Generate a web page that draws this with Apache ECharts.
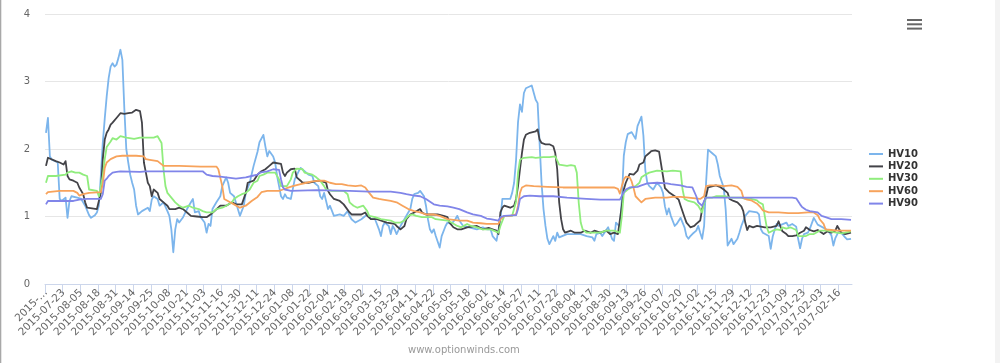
<!DOCTYPE html>
<html>
<head>
<meta charset="utf-8">
<script src="https://cdn.jsdelivr.net/npm/echarts@6/dist/echarts.min.js"></script>
<style>
html,body{margin:0;padding:0;background:#fff;}
#chart{width:1000px;height:363px;}
</style>
</head>
<body>
<div id="chart"></div>
<script>
// x tick labels (one every 9 trading days); the first one is shown truncated in the source
const tickLabels = ['2015-07-10','2015-07-23','2015-08-05','2015-08-18','2015-08-31','2015-09-14','2015-09-25','2015-10-08','2015-10-21','2015-11-03','2015-11-16','2015-11-30','2015-12-11','2015-12-24','2016-01-08','2016-01-22','2016-02-04','2016-02-18','2016-03-02','2016-03-15','2016-03-29','2016-04-11','2016-04-22','2016-05-05','2016-05-18','2016-06-01','2016-06-14','2016-06-27','2016-07-11','2016-07-22','2016-08-04','2016-08-17','2016-08-30','2016-09-13','2016-09-26','2016-10-07','2016-10-20','2016-11-02','2016-11-15','2016-11-29','2016-12-12','2016-12-23','2017-01-09','2017-01-23','2017-02-03','2017-02-16'];
const dayCount = 412;          // trading days on the axis
const labelStep = 9;           // days between tick labels
const seriesNames = ['HV10','HV20','HV30','HV60','HV90'];
const seriesColors = ['#7cb5ec','#434348','#90ed7d','#f7a35c','#8085e9'];

// [dayIndex, value]
const hv10 = [[0,2.24],[1,2.46],[2,1.89],[3,1.84],[6,1.80],[7,1.26],[8,1.23],[10,1.28],[11,0.98],[12,1.23],[13,1.30],[16,1.28],[18,1.26],[20,1.16],[22,1.02],[23,0.98],[25,1.02],[26,1.06],[27,1.16],[28,1.60],[29,2.09],[30,2.45],[31,2.78],[32,3.05],[33,3.22],[34,3.27],[35,3.22],[36,3.25],[37,3.35],[38,3.47],[39,3.32],[40,2.60],[41,2.00],[42,1.80],[43,1.62],[44,1.50],[45,1.40],[46,1.16],[47,1.03],[49,1.08],[50,1.08],[52,1.13],[53,1.08],[54,1.25],[55,1.30],[56,1.30],[57,1.26],[58,1.16],[60,1.21],[62,1.08],[63,1.01],[64,0.81],[65,0.47],[66,0.81],[67,0.96],[68,0.91],[70,0.99],[72,1.11],[74,1.21],[75,1.26],[76,1.06],[78,1.08],[79,0.99],[81,0.91],[82,0.76],[83,0.89],[84,0.86],[85,1.11],[87,1.21],[89,1.30],[90,1.45],[92,1.58],[93,1.50],[94,1.35],[96,1.30],[97,1.30],[99,1.01],[101,1.16],[102,1.35],[104,1.50],[106,1.75],[108,1.96],[109,2.10],[111,2.21],[112,2.04],[113,1.89],[114,1.97],[116,1.89],[117,1.80],[118,1.60],[119,1.45],[120,1.30],[121,1.26],[122,1.33],[123,1.28],[125,1.26],[127,1.55],[129,1.67],[130,1.72],[132,1.67],[134,1.62],[136,1.60],[137,1.50],[139,1.45],[140,1.30],[141,1.26],[142,1.35],[144,1.11],[145,1.16],[147,1.01],[150,1.03],[152,1.01],[154,1.08],[155,1.01],[156,0.96],[158,0.91],[159,0.89],[161,0.96],[164,1.03],[166,0.96],[168,0.96],[170,0.81],[171,0.71],[172,0.86],[173,0.91],[175,0.86],[176,0.74],[177,0.86],[178,0.81],[179,0.74],[181,0.86],[182,0.91],[183,0.96],[184,1.01],[186,1.11],[187,1.26],[188,1.33],[190,1.35],[191,1.38],[193,1.30],[194,1.16],[195,0.96],[196,0.81],[197,0.76],[198,0.81],[199,0.71],[201,0.54],[202,0.71],[204,0.86],[205,0.91],[207,0.89],[209,0.96],[210,1.01],[211,0.94],[213,0.86],[216,0.84],[220,0.81],[223,0.84],[225,0.81],[227,0.81],[228,0.71],[230,0.64],[231,0.62],[232,0.96],[233,1.26],[234,1.28],[237,1.26],[238,1.35],[239,1.50],[240,1.84],[241,2.40],[242,2.66],[243,2.55],[244,2.83],[245,2.90],[248,2.94],[249,2.93],[250,2.73],[251,2.68],[252,2.09],[253,1.50],[254,1.11],[255,0.86],[256,0.67],[257,0.59],[259,0.71],[260,0.64],[261,0.76],[262,0.69],[266,0.74],[269,0.74],[273,0.74],[276,0.71],[279,0.69],[280,0.64],[281,0.74],[283,0.76],[284,0.71],[287,0.84],[289,0.67],[290,0.64],[291,0.91],[293,0.85],[294,1.25],[295,1.90],[296,2.10],[297,2.22],[299,2.25],[300,2.26],[301,2.15],[302,2.34],[303,2.41],[304,2.48],[305,2.20],[306,1.68],[307,1.50],[308,1.45],[309,1.45],[310,1.40],[312,1.50],[314,1.43],[315,1.35],[316,1.15],[317,1.03],[318,1.12],[319,1.01],[321,0.86],[322,0.89],[324,0.98],[326,0.84],[327,0.71],[328,0.67],[329,0.71],[330,0.74],[332,0.79],[333,0.86],[334,0.76],[335,0.67],[336,0.86],[337,1.50],[338,1.99],[339,2.00],[340,1.94],[342,1.89],[343,1.77],[344,1.60],[346,1.43],[347,1.11],[348,0.57],[349,0.55],[350,0.67],[351,0.59],[352,0.57],[353,0.67],[354,0.76],[355,0.86],[357,1.01],[359,1.08],[360,1.06],[363,1.06],[364,1.03],[365,0.81],[366,0.76],[369,0.71],[370,0.52],[371,0.70],[372,0.80],[373,0.89],[374,0.86],[378,0.91],[379,0.86],[381,0.89],[383,0.85],[384,0.67],[385,0.53],[386,0.67],[387,0.74],[389,0.76],[390,0.82],[392,0.98],[394,0.88],[395,0.86],[399,0.80],[401,0.72],[402,0.57],[403,0.68],[404,0.74],[405,0.79],[406,0.76],[408,0.69],[409,0.66],[411,0.67]];

const hv20 = [[0,1.75],[1,1.87],[2,1.85],[5,1.82],[7,1.80],[9,1.77],[10,1.82],[11,1.60],[12,1.55],[14,1.53],[16,1.50],[17,1.43],[18,1.38],[19,1.33],[20,1.21],[21,1.13],[22,1.11],[26,1.11],[27,1.13],[28,1.35],[29,1.85],[30,2.14],[31,2.24],[32,2.29],[33,2.36],[34,2.39],[36,2.46],[37,2.48],[38,2.53],[40,2.52],[42,2.53],[44,2.54],[46,2.58],[48,2.56],[49,2.39],[50,1.80],[51,1.65],[52,1.50],[53,1.45],[54,1.30],[55,1.40],[57,1.35],[58,1.26],[60,1.21],[62,1.16],[63,1.11],[66,1.11],[68,1.13],[70,1.11],[72,1.06],[74,1.01],[77,1.00],[80,0.99],[82,0.99],[84,1.03],[86,1.08],[89,1.16],[90,1.18],[92,1.16],[95,1.21],[97,1.18],[100,1.18],[102,1.35],[103,1.50],[106,1.53],[108,1.62],[110,1.67],[112,1.70],[114,1.75],[116,1.80],[120,1.78],[121,1.65],[122,1.60],[123,1.65],[125,1.70],[126,1.72],[127,1.71],[128,1.58],[130,1.53],[131,1.50],[134,1.50],[135,1.48],[139,1.53],[141,1.52],[143,1.50],[144,1.38],[145,1.33],[147,1.26],[150,1.23],[152,1.18],[153,1.16],[155,1.06],[156,1.03],[159,1.03],[161,1.03],[163,1.06],[164,1.01],[166,0.96],[169,0.96],[170,0.94],[174,0.91],[178,0.89],[179,0.86],[181,0.81],[182,0.79],[183,0.86],[184,0.96],[186,1.03],[188,1.06],[189,1.08],[191,1.11],[192,1.06],[194,1.03],[195,1.01],[200,1.03],[203,1.01],[205,0.99],[206,0.91],[208,0.84],[210,0.81],[212,0.81],[215,0.84],[220,0.86],[223,0.81],[226,0.83],[228,0.81],[230,0.79],[231,0.74],[232,1.06],[233,1.13],[234,1.16],[237,1.13],[239,1.16],[240,1.26],[241,1.45],[242,1.70],[243,1.94],[244,2.14],[245,2.21],[247,2.24],[250,2.26],[251,2.29],[252,2.14],[253,2.09],[255,2.07],[257,2.07],[259,2.04],[260,1.94],[261,1.70],[262,1.21],[263,0.96],[264,0.81],[265,0.76],[268,0.79],[270,0.76],[273,0.76],[275,0.79],[278,0.76],[280,0.79],[283,0.76],[286,0.79],[288,0.74],[290,0.76],[292,0.74],[293,0.76],[294,1.16],[295,1.40],[296,1.50],[298,1.63],[300,1.62],[302,1.68],[303,1.77],[304,1.78],[305,1.80],[306,1.89],[308,1.94],[309,1.97],[311,1.98],[313,1.96],[314,1.94],[315,1.60],[316,1.42],[318,1.36],[321,1.30],[323,1.25],[324,1.16],[326,0.99],[327,0.91],[329,0.84],[331,0.86],[332,0.89],[334,0.94],[335,1.11],[336,1.21],[337,1.30],[338,1.43],[339,1.45],[342,1.46],[344,1.44],[346,1.40],[348,1.35],[349,1.26],[351,1.23],[353,1.21],[355,1.15],[356,1.08],[357,0.91],[358,0.80],[359,0.86],[361,0.84],[363,0.86],[367,0.84],[370,0.84],[373,0.86],[374,0.93],[375,0.85],[376,0.78],[378,0.74],[379,0.71],[381,0.71],[383,0.72],[385,0.76],[387,0.79],[388,0.84],[390,0.80],[392,0.78],[394,0.80],[397,0.74],[399,0.78],[401,0.76],[402,0.75],[403,0.79],[404,0.86],[406,0.76],[408,0.74],[411,0.76]];

const hv30 = [[0,1.50],[1,1.60],[2,1.62],[5,1.60],[10,1.62],[11,1.65],[13,1.67],[15,1.65],[17,1.65],[19,1.62],[21,1.60],[22,1.40],[23,1.38],[26,1.38],[27,1.30],[28,1.32],[29,1.60],[30,1.85],[31,2.03],[33,2.11],[34,2.16],[36,2.14],[38,2.19],[41,2.17],[45,2.15],[48,2.17],[51,2.17],[55,2.17],[57,2.19],[58,2.21],[59,2.09],[60,1.70],[61,1.45],[62,1.35],[64,1.28],[66,1.21],[68,1.16],[70,1.13],[73,1.16],[75,1.13],[78,1.11],[80,1.08],[82,1.06],[85,1.06],[87,1.11],[90,1.13],[92,1.16],[95,1.21],[96,1.26],[98,1.30],[100,1.33],[102,1.35],[104,1.40],[106,1.50],[108,1.53],[109,1.60],[111,1.62],[113,1.65],[117,1.65],[119,1.55],[120,1.45],[121,1.43],[123,1.45],[125,1.55],[126,1.65],[128,1.71],[131,1.70],[132,1.65],[136,1.62],[138,1.58],[140,1.53],[142,1.45],[143,1.40],[146,1.38],[152,1.38],[154,1.33],[155,1.21],[157,1.16],[159,1.13],[162,1.16],[164,1.08],[165,1.01],[168,0.99],[171,0.96],[176,0.94],[178,0.91],[181,0.91],[183,0.94],[185,1.01],[187,1.03],[189,1.01],[192,0.99],[197,0.99],[199,0.96],[205,0.94],[207,0.91],[210,0.86],[212,0.84],[215,0.89],[217,0.86],[220,0.84],[223,0.81],[227,0.81],[228,0.80],[231,0.76],[232,0.86],[234,1.01],[238,1.01],[239,1.03],[240,1.22],[241,1.65],[242,1.84],[244,1.87],[248,1.88],[250,1.87],[254,1.88],[257,1.88],[260,1.89],[261,1.87],[262,1.77],[263,1.75],[266,1.75],[268,1.76],[270,1.75],[271,1.65],[272,1.20],[273,0.91],[274,0.81],[276,0.76],[279,0.76],[283,0.76],[286,0.79],[290,0.79],[293,0.76],[294,1.00],[295,1.35],[297,1.40],[299,1.43],[301,1.45],[303,1.50],[304,1.58],[306,1.62],[308,1.65],[309,1.67],[312,1.68],[317,1.67],[320,1.68],[324,1.67],[325,1.40],[326,1.26],[328,1.23],[331,1.21],[333,1.16],[335,1.06],[336,1.20],[337,1.28],[338,1.30],[340,1.28],[342,1.30],[347,1.30],[349,1.28],[355,1.28],[357,1.26],[360,1.26],[363,1.24],[364,1.21],[366,1.18],[367,1.00],[368,0.84],[369,0.76],[371,0.79],[373,0.81],[375,0.80],[376,0.84],[378,0.82],[380,0.84],[383,0.80],[384,0.71],[385,0.71],[388,0.71],[390,0.74],[392,0.74],[393,0.76],[395,0.79],[399,0.79],[402,0.77],[406,0.75],[408,0.76],[411,0.78]];

const hv60 = [[0,1.33],[1,1.36],[7,1.38],[14,1.38],[16,1.35],[17,1.31],[19,1.33],[22,1.35],[28,1.36],[29,1.48],[30,1.72],[31,1.80],[33,1.85],[36,1.89],[39,1.90],[46,1.90],[50,1.89],[51,1.85],[53,1.84],[57,1.82],[58,1.80],[60,1.75],[68,1.75],[79,1.74],[87,1.74],[88,1.70],[90,1.45],[91,1.26],[94,1.21],[96,1.18],[99,1.13],[102,1.16],[103,1.18],[105,1.23],[108,1.29],[109,1.30],[110,1.36],[113,1.38],[119,1.38],[121,1.40],[124,1.43],[126,1.45],[130,1.48],[133,1.50],[136,1.52],[140,1.53],[142,1.53],[145,1.50],[148,1.48],[151,1.48],[154,1.46],[158,1.45],[161,1.46],[163,1.43],[165,1.35],[167,1.28],[170,1.26],[172,1.25],[176,1.23],[179,1.21],[182,1.16],[185,1.11],[188,1.08],[191,1.06],[194,1.03],[198,1.03],[201,1.01],[205,0.96],[208,0.95],[211,0.94],[215,0.94],[218,0.91],[222,0.90],[225,0.89],[231,0.89],[232,0.96],[234,1.01],[237,1.01],[240,1.03],[241,1.16],[242,1.35],[243,1.43],[245,1.46],[249,1.45],[256,1.44],[264,1.43],[273,1.43],[281,1.43],[290,1.43],[292,1.41],[293,1.34],[294,1.45],[295,1.55],[296,1.59],[298,1.58],[299,1.52],[300,1.42],[301,1.30],[303,1.24],[304,1.21],[306,1.26],[308,1.27],[311,1.28],[317,1.28],[320,1.29],[324,1.29],[328,1.28],[334,1.26],[336,1.30],[337,1.45],[339,1.46],[343,1.46],[346,1.45],[350,1.46],[353,1.44],[355,1.38],[356,1.28],[358,1.25],[360,1.24],[363,1.19],[365,1.13],[366,1.09],[367,1.08],[369,1.06],[370,1.07],[374,1.06],[379,1.05],[384,1.05],[389,1.06],[392,1.06],[394,1.02],[395,0.96],[397,0.89],[398,0.81],[401,0.80],[404,0.79],[408,0.79],[411,0.79]];

const hv90 = [[0,1.18],[1,1.23],[7,1.23],[14,1.23],[17,1.25],[21,1.26],[28,1.26],[29,1.33],[30,1.53],[31,1.56],[32,1.60],[33,1.62],[34,1.65],[36,1.66],[38,1.67],[48,1.66],[51,1.67],[80,1.67],[82,1.62],[85,1.60],[89,1.59],[92,1.58],[97,1.56],[102,1.58],[105,1.60],[108,1.62],[109,1.65],[113,1.67],[116,1.70],[119,1.69],[120,1.55],[121,1.43],[122,1.40],[125,1.38],[138,1.39],[155,1.38],[165,1.37],[176,1.37],[181,1.35],[184,1.33],[188,1.31],[191,1.30],[194,1.26],[198,1.18],[201,1.16],[205,1.15],[208,1.13],[211,1.11],[215,1.06],[218,1.03],[222,1.01],[225,0.97],[227,0.96],[228,0.94],[231,0.94],[232,0.99],[234,1.01],[240,1.02],[241,1.11],[242,1.26],[244,1.30],[247,1.31],[252,1.30],[259,1.30],[266,1.28],[276,1.26],[283,1.25],[293,1.25],[295,1.36],[296,1.40],[298,1.43],[302,1.44],[304,1.46],[307,1.49],[312,1.50],[317,1.49],[319,1.48],[324,1.46],[327,1.44],[330,1.43],[332,1.30],[333,1.21],[335,1.16],[336,1.23],[337,1.28],[341,1.28],[355,1.28],[368,1.28],[381,1.28],[383,1.27],[384,1.26],[385,1.18],[386,1.14],[388,1.10],[390,1.08],[394,1.06],[395,1.04],[396,1.01],[398,0.99],[399,0.99],[401,0.96],[402,0.97],[406,0.96],[411,0.95]];

const seriesData = [hv10, hv20, hv30, hv60, hv90];

const labelValues = tickLabels.map((_, k) => k * labelStep);
const tickValues = tickLabels.map((_, k) => k * labelStep - 0.5);

const chart = echarts.init(document.getElementById('chart'), null, {renderer: 'canvas'});
chart.setOption({
  animation: false,
  backgroundColor: '#ffffff',
  grid: {left: 45, right: 148, top: 14, bottom: 79, containLabel: false, outerBoundsMode: 'none'},
  legend: {
    orient: 'vertical',
    left: 869,
    top: 149,
    padding: 0,
    itemWidth: 14,
    itemHeight: 2,
    itemGap: 2.4,
    icon: 'rect',
    data: seriesNames,
    textStyle: {fontFamily: 'DejaVu Sans', fontWeight: 'bold', fontSize: 10, color: '#333333'}
  },
  xAxis: {
    type: 'value',
    min: -0.5,
    max: dayCount - 0.5,
    axisLine: {show: true, lineStyle: {color: '#ccd6eb', width: 1}},
    axisTick: {show: true, length: 10, customValues: tickValues, lineStyle: {color: '#ccd6eb'}},
    splitLine: {show: false},
    axisLabel: {
      customValues: labelValues,
      rotate: 45,
      margin: 7,
      color: '#666666',
      fontFamily: 'DejaVu Sans',
      fontSize: 10.5,
      formatter: function (v) {
        const k = Math.round(v / labelStep);
        const s = tickLabels[k] || '';
        return k === 0 ? s.slice(0, 5) + '…' : s;
      }
    }
  },
  yAxis: {
    type: 'value',
    min: 0,
    max: 4,
    interval: 1,
    axisLine: {show: false},
    axisTick: {show: false},
    splitLine: {lineStyle: {color: '#e6e6e6', width: 1}},
    axisLabel: {color: '#666666', fontFamily: 'DejaVu Sans', fontSize: 10, margin: 15}
  },
  series: seriesNames.map((name, i) => ({
    name: name,
    type: 'line',
    data: seriesData[i],
    showSymbol: false,
    symbol: 'none',
    smooth: false,
    color: seriesColors[i],
    lineStyle: {width: 1.8, color: seriesColors[i], join: 'round'},
    emphasis: {disabled: true}
  })),
  graphic: [
    {type: 'rect', shape: {x: 0, y: 0, width: 1.3, height: 363}, style: {fill: '#a8a8a8'}, silent: true},
    {type: 'rect', shape: {x: 995, y: 0, width: 5, height: 363}, style: {fill: '#f3f3f3'}, silent: true},
    {type: 'rect', shape: {x: 907, y: 19, width: 15, height: 2}, style: {fill: '#666666'}, silent: true},
    {type: 'rect', shape: {x: 907, y: 23.3, width: 15, height: 2}, style: {fill: '#666666'}, silent: true},
    {type: 'rect', shape: {x: 907, y: 27.6, width: 15, height: 2}, style: {fill: '#666666'}, silent: true},
    {type: 'text', x: 408, y: 345, style: {text: 'www.optionwinds.com', fill: '#999999', fontFamily: 'DejaVu Sans', fontSize: 10, textVerticalAlign: 'top'}, silent: true}
  ]
});
</script>
</body>
</html>
